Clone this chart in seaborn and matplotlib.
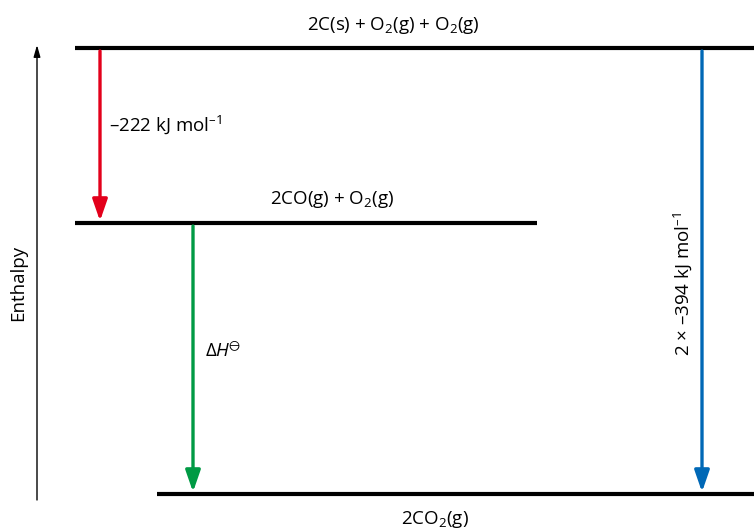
import seaborn as sns
import pandas as pd
import matplotlib.pyplot as plt

# Enthalpy levels (schematic diagram units, not to scale)
states = ["2C(s) + O$_2$(g) + O$_2$(g)", "2CO(g) + O$_2$(g)", "2CO$_2$(g)"]
level_height = [481, 306, 35]

# Enthalpy changes between levels: (from state, to state, label)
change_from = [0, 1, 0]
change_to = [1, 2, 2]
change_labels = ["–222 kJ mol$^{–1}$", "Δ$\\it{H}$$^{⊖}$", "2 × –394 kJ mol$^{–1}$"]

sns.set_style("white")
plt.rcParams["font.family"] = ["Open Sans", "DejaVu Sans"]
plt.rcParams["mathtext.fontset"] = "custom"
plt.rcParams["mathtext.rm"] = "Open Sans"
plt.rcParams["mathtext.it"] = "Open Sans:italic"
plt.rcParams["text.color"] = "black"

FS = 13.5

# horizontal extent of each level line and where each arrow sits
level_left = [75, 75, 157]
level_right = [754, 537, 754]
arrow_x = [100, 193, 702]
colors = ["#e3001b", "#009a44", "#0068b6"]

fig = plt.figure(figsize=(7.54, 5.29), dpi=100)
ax = fig.add_axes([0, 0, 1, 1])

# level lines through seaborn, one unit per state
rows = []
for s, h, x0, x1 in zip(states, level_height, level_left, level_right):
    rows.append({"state": s, "x": x0, "y": h})
    rows.append({"state": s, "x": x1, "y": h})
levels = pd.DataFrame(rows)
sns.lineplot(data=levels, x="x", y="y", units="state", estimator=None,
             color="black", lw=3.0, ax=ax, solid_capstyle="butt")

# level labels
ax.text(393, level_height[0] + 23, states[0], ha="center", va="center", fontsize=FS)
ax.text(332, level_height[1] + 23, states[1], ha="center", va="center", fontsize=FS)
ax.text(435, level_height[2] - 26, states[2], ha="center", va="center", fontsize=FS)

# enthalpy change arrows
for i in range(3):
    y0 = level_height[change_from[i]] - 3
    y1 = level_height[change_to[i]] + 2
    ax.annotate("", xy=(arrow_x[i], y1), xytext=(arrow_x[i], y0),
                arrowprops=dict(arrowstyle="-|>,head_length=1.3,head_width=0.45",
                                color=colors[i], lw=2.4, shrinkA=0, shrinkB=0))

ax.text(109, 404, change_labels[0], ha="left", va="center", fontsize=FS)
ax.text(205, 178, change_labels[1], ha="left", va="center", fontsize=FS)
ax.text(683, 245, change_labels[2], ha="center", va="center", fontsize=FS, rotation=90)

# enthalpy axis
ax.annotate("", xy=(37, 484), xytext=(37, 29),
            arrowprops=dict(arrowstyle="-|>,head_length=0.7,head_width=0.2",
                            color="black", lw=1.0, shrinkA=0, shrinkB=0))
ax.text(18, 246, "Enthalpy", ha="center", va="center", fontsize=FS, rotation=90)

ax.set_xlim(0, 754)
ax.set_ylim(0, 529)
ax.set_xlabel("")
ax.set_ylabel("")
ax.axis("off")

plt.savefig("out.png", dpi=100)
